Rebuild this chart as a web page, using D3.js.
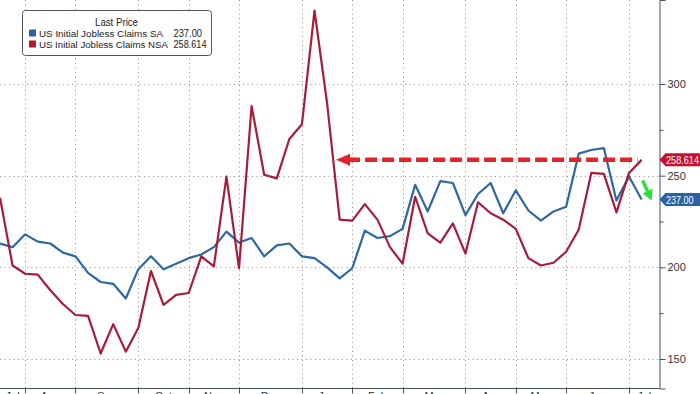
<!DOCTYPE html>
<html>
<head>
<meta charset="utf-8">
<script src="https://cdn.jsdelivr.net/npm/d3@7"></script>
<style>
  body { margin: 0; background: #fff; }
  svg { display: block; font-family: "Liberation Sans", Arial, sans-serif; }
</style>
</head>
<body>
<svg id="chart"></svg>
<script>
// Weekly observations (Bloomberg dates, Thursdays)
const dates = [
  "2022-07-21", "2022-07-28",
  "2022-08-04", "2022-08-11", "2022-08-18", "2022-08-25",
  "2022-09-01", "2022-09-08", "2022-09-15", "2022-09-22", "2022-09-29",
  "2022-10-06", "2022-10-13", "2022-10-20", "2022-10-27",
  "2022-11-03", "2022-11-10", "2022-11-17", "2022-11-24",
  "2022-12-01", "2022-12-08", "2022-12-15", "2022-12-22", "2022-12-29",
  "2023-01-05", "2023-01-12", "2023-01-19", "2023-01-26",
  "2023-02-02", "2023-02-09", "2023-02-16", "2023-02-23",
  "2023-03-02", "2023-03-09", "2023-03-16", "2023-03-23", "2023-03-30",
  "2023-04-06", "2023-04-13", "2023-04-20", "2023-04-27",
  "2023-05-04", "2023-05-11", "2023-05-18", "2023-05-25",
  "2023-06-01", "2023-06-08", "2023-06-15", "2023-06-22", "2023-06-29",
  "2023-07-06", "2023-07-13",
];

// US Initial Jobless Claims SA (thousands)
const claimsSA = [
  213, 211, 218, 214, 213, 208, 206, 197, 192, 191,
  183, 199, 206, 199, 202, 205, 207, 211, 219.5, 213.5,
  216, 206, 212, 213, 206, 205, 200, 194, 199.5, 220,
  216, 217, 221, 245, 230.5, 247, 246, 228.5, 240, 246,
  229.5, 242, 231, 225.5, 230.5, 233, 262, 264, 265, 236.5,
  249.5, 237,
];

// US Initial Jobless Claims NSA (thousands)
const claimsNSA = [
  238, 201, 196.5, 196, 187.5, 180, 174, 173.5, 153, 169,
  154, 167, 198, 179.5, 185, 186, 206, 200.5, 249.5, 199.5,
  288, 250.5, 248.5, 270, 278, 340, 289.5, 226, 225.5, 234.5,
  226, 211, 202, 238.5, 218.5, 213.5, 224, 207.5, 235.5, 229.5,
  226, 221, 205, 201, 202.5, 208.5, 220.5, 251.5, 251, 230,
  251.5, 258.614,
];

const monthLabels = ["Jul", "Aug", "Sep", "Oct", "Nov", "Dec", "Jan", "Feb", "Mar", "Apr", "May", "Jun", "Jul"];
const yTicks = [150, 200, 250, 300];
const yMinorTicks = [175, 225, 275];
const lastSA = 237.0;
const lastNSA = 258.614;

// Dimensions
const totalWidth = 700;
const totalHeight = 394;
const axisX = 659.5;
const axisY = 388.5;

const blue = "#2f67a0";
const red = "#a81c3a";

const svg = d3.select("#chart").attr("width", totalWidth).attr("height", totalHeight);

svg.append("rect").attr("width", totalWidth).attr("height", totalHeight).attr("fill", "#fff");

// Scales
const xScale = d3.scalePoint().domain(dates).range([0, 641.6]);
const yScale = d3.scaleLinear().domain([150, 300]).range([359, 84]);

// first observation of each month -> gridlines
const monthStarts = dates.filter((d, i) => i > 0 && d.slice(0, 7) !== dates[i - 1].slice(0, 7));

// condensed text, like the terminal font
const squeeze = (sel, len) => sel.attr("textLength", len).attr("lengthAdjust", "spacingAndGlyphs");

// Gridlines
const grid = svg.append("g").attr("class", "grid")
  .attr("stroke", "#8c8c8c").attr("stroke-width", 1).attr("stroke-dasharray", "1,3.5");

grid.selectAll(".hgrid")
  .data(yTicks)
  .enter()
  .append("line")
  .attr("x1", 0)
  .attr("x2", axisX)
  .attr("y1", (d) => Math.round(yScale(d)) + 0.5)
  .attr("y2", (d) => Math.round(yScale(d)) + 0.5);

grid.selectAll(".vgrid")
  .data(monthStarts)
  .enter()
  .append("line")
  .attr("x1", (d) => Math.round(xScale(d)) + 0.5)
  .attr("x2", (d) => Math.round(xScale(d)) + 0.5)
  .attr("y1", 0)
  .attr("y2", axisY);

// Bottom axis line + month ticks
const axisColor = "#44505c";
svg.append("line")
  .attr("x1", 0).attr("x2", axisX)
  .attr("y1", axisY).attr("y2", axisY)
  .attr("stroke", axisColor);

svg.selectAll(".xtick")
  .data(monthStarts)
  .enter()
  .append("line")
  .attr("x1", (d) => Math.round(xScale(d)) + 0.5)
  .attr("x2", (d) => Math.round(xScale(d)) + 0.5)
  .attr("y1", axisY)
  .attr("y2", axisY + 5)
  .attr("stroke", axisColor);

// Month labels centred between month boundaries (cut by the bottom edge, as in the source)
const bounds = [0].concat(monthStarts.map((d) => xScale(d))).concat([axisX]);
svg.selectAll(".xlabel")
  .data(monthLabels)
  .enter()
  .append("text")
  .attr("x", (d, i) => (bounds[i] + bounds[i + 1]) / 2)
  .attr("y", 400)
  .attr("text-anchor", "middle")
  .attr("font-size", 11)
  .attr("fill", "#333")
  .text((d) => d);

// Right axis
const yAxisScale = d3.scaleLinear()
  .domain([yScale.invert(axisY), yScale.invert(0)])
  .range([axisY, 0]);

svg.append("g")
  .attr("transform", `translate(${axisX},0)`)
  .call(d3.axisRight(yAxisScale).tickValues(yTicks).tickSize(6).tickPadding(2))
  .call((g) => g.select(".domain").attr("stroke", axisColor))
  .call((g) => g.selectAll(".tick line").attr("stroke", axisColor))
  .call((g) => g.selectAll(".tick text")
    .attr("font-size", 11)
    .attr("font-family", "Liberation Sans, Arial, sans-serif")
    .attr("fill", "#333"));

svg.append("g")
  .attr("transform", `translate(${axisX},0)`)
  .call(d3.axisRight(yAxisScale).tickValues(yMinorTicks).tickSize(4).tickFormat(""))
  .call((g) => g.select(".domain").remove())
  .call((g) => g.selectAll(".tick line").attr("stroke", axisColor));

// Lines
const lineFunction = d3.line()
  .x((d, i) => xScale(dates[i]))
  .y((d) => yScale(d))
  .curve(d3.curveLinear);

svg.append("path")
  .attr("d", lineFunction(claimsSA))
  .attr("fill", "none")
  .attr("stroke", blue)
  .attr("stroke-width", 2.2)
  .attr("stroke-linejoin", "round");

svg.append("path")
  .attr("d", lineFunction(claimsNSA))
  .attr("fill", "none")
  .attr("stroke", red)
  .attr("stroke-width", 2.2)
  .attr("stroke-linejoin", "round");

// Dashed red annotation arrow at the latest NSA level
const arrowY = yScale(lastNSA);
const arrowTipX = xScale(dates[26]) + 9;
const arrowEndX = xScale(dates[dates.length - 1]) - 4;
svg.append("line")
  .attr("x1", arrowTipX + 12)
  .attr("x2", arrowEndX)
  .attr("y1", arrowY)
  .attr("y2", arrowY)
  .attr("stroke", "#e3222b")
  .attr("stroke-width", 4.5)
  .attr("stroke-dasharray", "12,5");
svg.append("path")
  .attr("d", `M${arrowTipX},${arrowY} L${arrowTipX + 14},${arrowY - 6} L${arrowTipX + 14},${arrowY + 6} Z`)
  .attr("fill", "#e3222b");

// Green arrow pointing down
const gx = xScale(dates[dates.length - 1]);
const gy = yScale(lastSA);
svg.append("line")
  .attr("x1", gx + 1).attr("y1", gy - 19)
  .attr("x2", gx + 6).attr("y2", gy - 8)
  .attr("stroke", "#2fe03a")
  .attr("stroke-width", 3.5);
svg.append("path")
  .attr("d", `M${gx + 1},${gy - 6} L${gx + 11},${gy - 11} L${gx + 10},${gy + 1} Z`)
  .attr("fill", "#2fe03a");

// Last value tags on the axis
const tags = [
  { value: lastNSA, label: "258.614", color: "#c8102e", len: 33 },
  { value: lastSA, label: "237.00", color: "#2a62a6", len: 27.5 },
];
tags.forEach((t) => {
  const ty = yScale(t.value);
  svg.append("path")
    .attr("d", `M${axisX},${ty} L${axisX + 6},${ty - 6.5} L${totalWidth},${ty - 6.5} L${totalWidth},${ty + 6.5} L${axisX + 6},${ty + 6.5} Z`)
    .attr("fill", t.color);
  svg.append("text")
    .attr("x", axisX + 6.5)
    .attr("y", ty + 4)
    .attr("font-size", 10.5)
    .attr("fill", "#fff")
    .text(t.label)
    .call(squeeze, t.len);
});

// Legend
const legend = svg.append("g").attr("class", "legend");
legend.append("rect")
  .attr("x", 22.5).attr("y", 10.5)
  .attr("width", 189).attr("height", 45)
  .attr("rx", 3)
  .attr("fill", "#fff")
  .attr("stroke", "#555")
  .attr("stroke-width", 1);
legend.append("text")
  .attr("x", 95).attr("y", 26)
  .attr("font-size", 10.5)
  .attr("fill", "#222")
  .text("Last Price")
  .call(squeeze, 43);

const legendRows = [
  { name: "US Initial Jobless Claims SA", value: "237.00", color: "#2b62a8", nameLen: 124, valueLen: 28.5 },
  { name: "US Initial Jobless Claims NSA", value: "258.614", color: "#b8162e", nameLen: 129, valueLen: 33 },
];
legendRows.forEach((r, i) => {
  const ry = 37 + i * 11;
  legend.append("rect")
    .attr("x", 29).attr("y", ry - 7.5)
    .attr("width", 7).attr("height", 7)
    .attr("fill", r.color);
  legend.append("text")
    .attr("x", 39).attr("y", ry)
    .attr("font-size", 9.7)
    .attr("fill", "#222")
    .text(r.name)
    .call(squeeze, r.nameLen);
  legend.append("text")
    .attr("x", 173.5).attr("y", ry)
    .attr("font-size", 10.5)
    .attr("fill", "#222")
    .text(r.value)
    .call(squeeze, r.valueLen);
});
</script>
</body>
</html>
